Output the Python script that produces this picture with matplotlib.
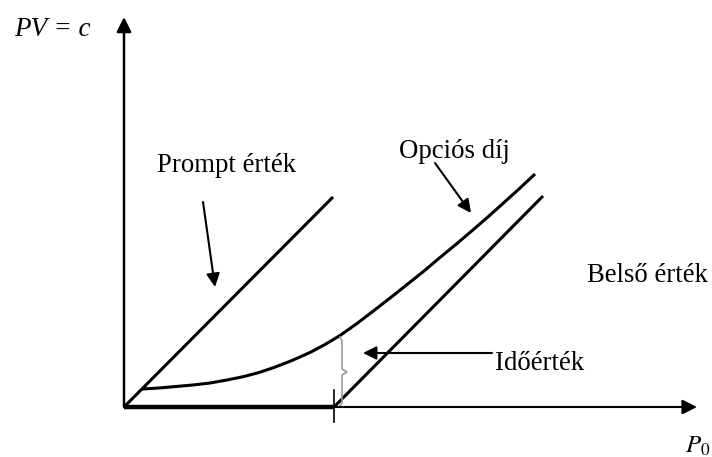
import matplotlib.pyplot as plt

# chart values (schematic, x = underlying price P0, y = PV = c)
prompt_x = [0, 209]
prompt_y = [0, 210]

intrinsic_x = [0, 210, 419]
intrinsic_y = [0, 0, 211]

option_x = [18, 35, 52, 69, 86, 103, 120, 135, 150, 168, 186, 201, 216,
            233, 250, 268, 285, 300, 316, 333, 350, 365, 380, 395, 411]
option_y = [18, 19, 20.5, 22, 24, 27, 30.5, 34.5, 39.5, 46.5, 54.5, 62.5, 71.5,
            83.5, 96.5, 110.5, 124, 136, 149.5, 163.5, 178, 191, 204.5, 218, 233]

strike = 210
x_max = 573
y_max = 390

serif = ['Liberation Serif', 'DejaVu Serif']

fig = plt.figure(figsize=(7.12, 4.57), dpi=100)
ax = fig.add_axes([0, 0, 1, 1])
ax.set_xlim(-124, 588)
ax.set_ylim(-50, 407)
ax.axis('off')

# axes with arrow heads
ax.annotate('', xy=(x_max, 0), xytext=(0, 0),
            arrowprops=dict(arrowstyle='-|>', color='black', lw=1.5,
                            mutation_scale=22, shrinkA=0, shrinkB=0))
ax.annotate('', xy=(0, y_max), xytext=(0, 0),
            arrowprops=dict(arrowstyle='-|>', color='black', lw=1.8,
                            mutation_scale=22, shrinkA=0, shrinkB=0))

# lines
ax.plot(prompt_x, prompt_y, color='black', lw=2.2, solid_capstyle='butt')
ax.plot(intrinsic_x[:2], intrinsic_y[:2], color='black', lw=3.2, solid_capstyle='butt')
ax.plot(intrinsic_x[1:], intrinsic_y[1:], color='black', lw=2.2, solid_capstyle='butt')
ax.plot(option_x, option_y, color='black', lw=2.2, solid_capstyle='butt',
        solid_joinstyle='round')

# strike tick
ax.plot([strike, strike], [-15, 17], color='black', lw=1.2)

# brace for time value
brace_x = [216, 218, 218, 223, 218, 218, 216]
brace_y = [70, 66, 38, 35, 32, 4, 1]
ax.plot(brace_x, brace_y, color='#999999', lw=1.2)

# pointer arrows
arrow = dict(arrowstyle='-|>', color='black', lw=1.5, mutation_scale=20,
             shrinkA=0, shrinkB=0)
ax.annotate('', xy=(91, 120), xytext=(79, 205), arrowprops=arrow)
ax.annotate('', xy=(347, 194), xytext=(311, 244), arrowprops=arrow)
ax.annotate('', xy=(239, 54), xytext=(368, 54), arrowprops=arrow)

# labels
ax.text(-110, 377, 'PV = c', family=serif, style='italic', fontsize=19.5,
        va='center', ha='left')
ax.text(33, 242, 'Prompt érték', family=serif, fontsize=19.3, va='center', ha='left')
ax.text(275, 255, 'Opciós díj', family=serif, fontsize=19.3, va='center', ha='left')
ax.text(463, 131, 'Belső érték', family=serif, fontsize=19.3, va='center', ha='left')
ax.text(371, 43, 'Időérték', family=serif, fontsize=19.3, va='center', ha='left')
ax.text(561, -39, '$P_0$', family=serif, fontsize=18, va='center', ha='left',
        math_fontfamily='stix')

fig.savefig('out.png', dpi=100)
